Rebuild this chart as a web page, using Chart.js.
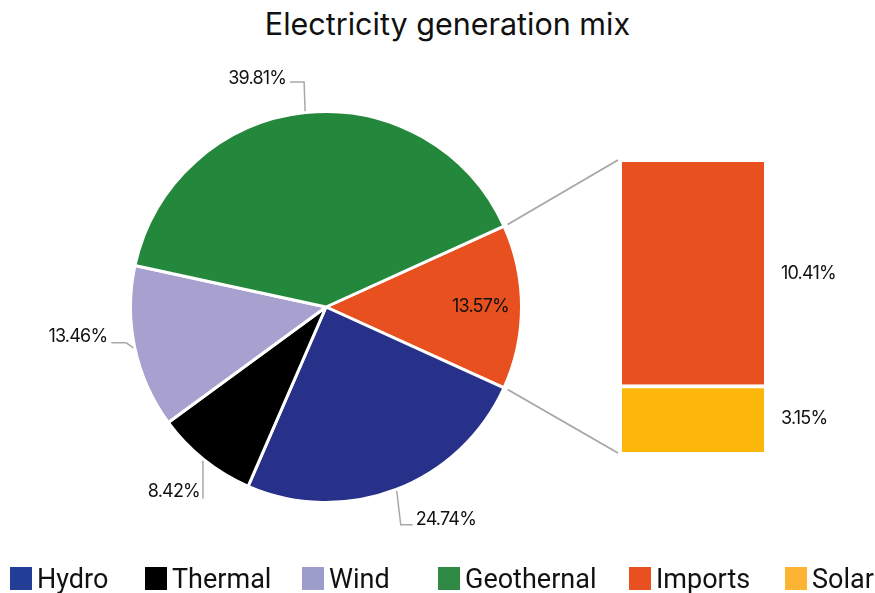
<!DOCTYPE html>
<html>
<head>
<meta charset="utf-8">
<script src="https://cdn.jsdelivr.net/npm/chart.js@4.4.0/dist/chart.umd.min.js"></script>
<style>
  html, body { margin: 0; padding: 0; background: #fff; }
  #wrap { position: relative; width: 875px; height: 593px; overflow: hidden; }
  #wrap canvas { position: absolute; left: 0; top: 0; }
  #title {
    position: absolute; left: 10px; top: 5px; width: 875px; text-align: center;
    font: 30.5px Inter, sans-serif; color: #111;
  }
  .legend-item { position: absolute; top: 563px; display: flex; align-items: flex-start; }
  .legend-box { width: 22px; height: 23px; margin-top: 4px; margin-right: 5px; }
  .legend-text { font: 27px Roboto, sans-serif; color: #111; white-space: nowrap; }
</style>
</head>
<body>
<div id="wrap">
  <div id="title">Electricity generation mix</div>
  <canvas id="pieChart" width="875" height="593"></canvas>
  <canvas id="barChart" width="875" height="593"></canvas>
</div>
<script>
// Pie slices (Other = Imports + Solar, broken out in the bar)
const pieLabels = ['Other', 'Hydro', 'Thermal', 'Wind', 'Geothermal'];
const pieValues = [13.57, 24.74, 8.42, 13.46, 39.81];
const pieColors = ['#E8501F', '#283189', '#000000', '#A8A0CF', '#24883C'];

// Breakdown of "Other"
const barLabels = ['Solar', 'Imports'];
const barValues = [3.15, 10.41];
const barColors = ['#FDB70A', '#E8501F'];

// Legend
const legendLabels = ['Hydro', 'Thermal', 'Wind', 'Geothernal', 'Imports', 'Solar'];
const legendColors = ['#233E96', '#000000', '#9D9DCB', '#2F8A45', '#E8501F', '#FDB433'];

const LINE_GREY = '#a8a8a8';
const LABEL_FONT = '18px Inter, sans-serif';

// Build HTML legend
const legendLeft = [10, 145, 302, 438, 629, 785];
legendLabels.forEach((label, i) => {
  const item = document.createElement('div');
  item.className = 'legend-item';
  item.style.left = legendLeft[i] + 'px';
  item.innerHTML = '<div class="legend-box" style="background:' + legendColors[i] + '"></div>' +
    '<div class="legend-text">' + label + '</div>';
  document.getElementById('wrap').appendChild(item);
});

// Leader line layout per slice, offsets from the slice's outer edge at mid angle
const pieLabelLayout = [
  { inside: true },
  { pts: [[4, 34], [16, 34]], text: [19, 29], align: 'left' },
  { pts: [[0, 38]], text: [-3, 31], align: 'right' },
  { pts: [[-7, -5], [-22, -5]], text: [-26, -11], align: 'right' },
  { pts: [[-1, -29], [-15, -29]], text: [-19, -33], align: 'right' }
];

function setLabelFont(ctx) {
  ctx.font = LABEL_FONT;
  ctx.fillStyle = '#111';
  ctx.textBaseline = 'middle';
  if ('letterSpacing' in ctx) ctx.letterSpacing = '-0.8px';
}

const pieLabelPlugin = {
  id: 'pieLabels',
  afterDatasetsDraw(chart) {
    const ctx = chart.ctx;
    const meta = chart.getDatasetMeta(0);
    ctx.save();
    meta.data.forEach((arc, i) => {
      const p = arc.getProps(['x', 'y', 'startAngle', 'endAngle', 'outerRadius'], true);
      const mid = (p.startAngle + p.endAngle) / 2;
      const text = pieValues[i].toFixed(2) + '%';
      const layout = pieLabelLayout[i];
      setLabelFont(ctx);
      if (layout.inside) {
        const r = p.outerRadius * 0.79;
        ctx.textAlign = 'center';
        ctx.fillText(text, p.x + Math.cos(mid) * r, p.y + Math.sin(mid) * r);
        return;
      }
      const r = p.outerRadius + 1.5;
      const ex = p.x + Math.cos(mid) * r;
      const ey = p.y + Math.sin(mid) * r;
      ctx.strokeStyle = LINE_GREY;
      ctx.lineWidth = 1.5;
      ctx.beginPath();
      ctx.moveTo(ex, ey);
      layout.pts.forEach(pt => ctx.lineTo(ex + pt[0], ey + pt[1]));
      ctx.stroke();
      ctx.textAlign = layout.align;
      ctx.fillText(text, ex + layout.text[0], ey + layout.text[1]);
    });
    ctx.restore();
  }
};

const pieChart = new Chart(document.getElementById('pieChart'), {
  type: 'pie',
  data: {
    labels: pieLabels,
    datasets: [{
      data: pieValues,
      backgroundColor: pieColors,
      borderColor: '#ffffff',
      borderWidth: 3
    }]
  },
  options: {
    responsive: false,
    animation: false,
    events: [],
    rotation: 90 - pieValues[0] * 1.8,
    layout: { padding: { left: 129, right: 352, top: 110, bottom: 89 } },
    plugins: {
      legend: { display: false },
      title: { display: false },
      tooltip: { enabled: false }
    }
  },
  plugins: [pieLabelPlugin]
});

const barExtrasPlugin = {
  id: 'barExtras',
  afterDatasetsDraw(chart) {
    const ctx = chart.ctx;
    ctx.save();
    // value labels to the right of each segment
    barValues.forEach((v, i) => {
      const bar = chart.getDatasetMeta(i).data[0];
      const b = bar.getProps(['x', 'y', 'base', 'width'], true);
      setLabelFont(ctx);
      ctx.textAlign = 'left';
      ctx.fillText(v.toFixed(2) + '%', b.x + b.width / 2 + 17, (b.y + b.base) / 2);
    });

    // connector lines from the "Other" slice to the bar
    const arc = pieChart.getDatasetMeta(0).data[0];
    const p = arc.getProps(['x', 'y', 'startAngle', 'endAngle', 'outerRadius'], true);
    const r = p.outerRadius + 4;
    const top = chart.getDatasetMeta(1).data[0].getProps(['x', 'y', 'width'], true);
    const bottom = chart.getDatasetMeta(0).data[0].getProps(['x', 'base', 'width'], true);
    ctx.strokeStyle = LINE_GREY;
    ctx.lineWidth = 2;
    ctx.beginPath();
    ctx.moveTo(p.x + Math.cos(p.startAngle) * r, p.y + Math.sin(p.startAngle) * r);
    ctx.lineTo(top.x - top.width / 2 - 4, top.y - 2);
    ctx.moveTo(p.x + Math.cos(p.endAngle) * r, p.y + Math.sin(p.endAngle) * r);
    ctx.lineTo(bottom.x - bottom.width / 2 - 4, bottom.base + 1);
    ctx.stroke();
    ctx.restore();
  }
};

new Chart(document.getElementById('barChart'), {
  type: 'bar',
  data: {
    labels: ['Other'],
    datasets: barLabels.map((label, i) => ({
      label: label,
      data: [barValues[i]],
      backgroundColor: barColors[i],
      borderColor: '#ffffff',
      borderWidth: i === 0 ? { top: 4, left: 0, right: 0, bottom: 0 } : 0,
      categoryPercentage: 1,
      barPercentage: 1
    }))
  },
  options: {
    responsive: false,
    animation: false,
    events: [],
    layout: { padding: { left: 622, right: 111, top: 162, bottom: 141 } },
    scales: {
      x: { stacked: true, display: false },
      y: { stacked: true, display: false, min: 0, max: barValues[0] + barValues[1] }
    },
    plugins: {
      legend: { display: false },
      tooltip: { enabled: false }
    }
  },
  plugins: [barExtrasPlugin]
});
</script>
</body>
</html>
